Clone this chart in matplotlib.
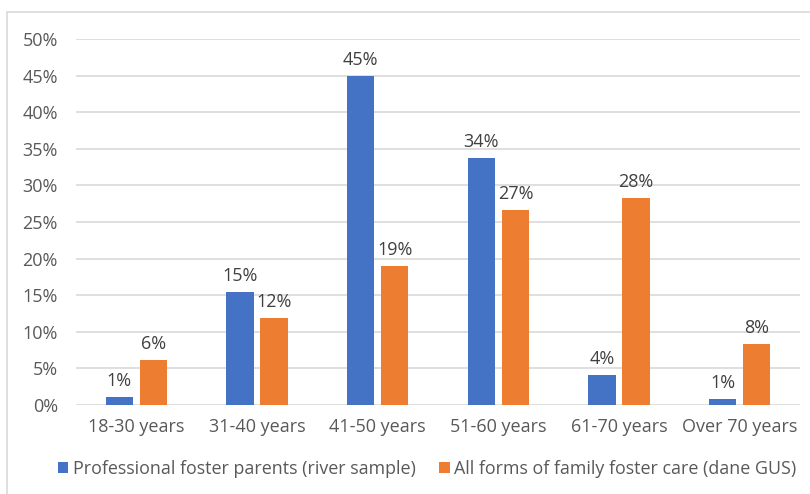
import numpy as np
import matplotlib.pyplot as plt
from matplotlib.patches import Rectangle

# data
categories = ["18-30 years", "31-40 years", "41-50 years", "51-60 years", "61-70 years", "Over 70 years"]
professional = [1.1, 15.4, 45.0, 33.8, 4.1, 0.8]
all_forms = [6.1, 11.9, 19.0, 26.7, 28.3, 8.3]
prof_labels = ["1%", "15%", "45%", "34%", "4%", "1%"]
all_labels = ["6%", "12%", "19%", "27%", "28%", "8%"]
series_names = ["Professional foster parents (river sample)", "All forms of family foster care (dane GUS)"]

plt.rcParams['font.family'] = ['Open Sans', 'DejaVu Sans']
txt = '#595959'

fig = plt.figure(figsize=(8.1, 4.94), dpi=100)
fig.patches.append(Rectangle((7/810, -0.1), 1.2, 0.1 + 1 - 12/494, transform=fig.transFigure,
                             fill=False, edgecolor='#d9d9d9', linewidth=1.2))
ax = fig.add_axes([76/810, 1 - 405/494, (800 - 76)/810, (405 - 39)/494])

x = np.arange(len(categories))
w = 0.226
off = 0.142
b1 = ax.bar(x - off, professional, w, color='#4472C4', label=series_names[0], zorder=3)
b2 = ax.bar(x + off, all_forms, w, color='#ED7D31', label=series_names[1], zorder=3)

# etykiety nad slupkami
for bars, labs in ((b1, prof_labels), (b2, all_labels)):
    for r, lab in zip(bars, labs):
        ax.annotate(lab, (r.get_x() + r.get_width()/2, r.get_height()), xytext=(0, 5),
                    textcoords='offset points', ha='center', va='bottom', fontsize=13, color='#404040')

ax.set_xlim(-0.5, len(categories) - 0.5)
ax.set_ylim(0, 50)
ax.set_yticks(np.arange(0, 51, 5))
ax.set_yticklabels([f"{v}%" for v in range(0, 51, 5)])
ax.set_xticks(x)
ax.set_xticklabels(categories)
ax.tick_params(axis='both', length=0, labelsize=13, colors=txt)
ax.tick_params(axis='y', pad=13)
ax.tick_params(axis='x', pad=9)
ax.grid(axis='y', color='#d9d9d9', linewidth=1.2, zorder=0)
for s in ax.spines.values():
    s.set_visible(False)

ax.legend(loc='upper center', bbox_to_anchor=(0.485, -0.105), ncol=2, frameon=False,
          fontsize=12.9, labelcolor=txt, handlelength=0.6, handleheight=0.6,
          handletextpad=0.25, columnspacing=1.3)

plt.savefig("out.png", dpi=100)
